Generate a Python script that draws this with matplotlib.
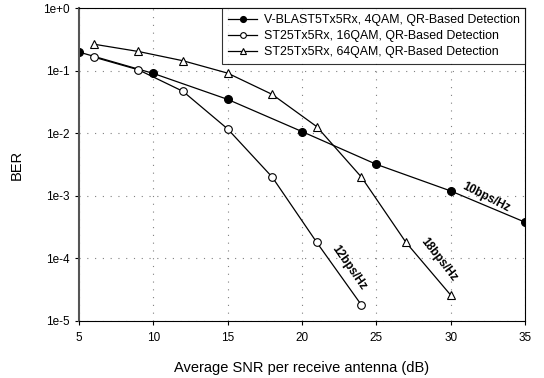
import matplotlib
matplotlib.use('Agg')
import matplotlib.pyplot as plt
import numpy as np

plt.rcParams['font.family'] = ['Liberation Sans', 'DejaVu Sans']

# data
snr_vblast = [5, 10, 15, 20, 25, 30, 35]
ber_vblast = [0.20, 0.091, 0.035, 0.0107, 0.0032, 0.0012, 3.8e-4]

snr_st = [6, 9, 12, 15, 18, 21, 24]
ber_st16 = [0.166, 0.104, 0.047, 0.0118, 0.0020, 1.8e-4, 1.8e-5]

snr_st64 = [6, 9, 12, 15, 18, 21, 24, 27, 30]
ber_st64 = [0.267, 0.204, 0.145, 0.092, 0.042, 0.0128, 0.0020, 1.8e-4, 2.6e-5]

labels = ['V-BLAST5Tx5Rx, 4QAM, QR-Based Detection',
          'ST25Tx5Rx, 16QAM, QR-Based Detection',
          'ST25Tx5Rx, 64QAM, QR-Based Detection']

fig = plt.figure(figsize=(5.44, 3.78), dpi=100)
ax = fig.add_axes([0.145, 0.151, 0.82, 0.827])

ax.semilogy(snr_vblast, ber_vblast, 'k-', marker='o', ms=5.5, lw=0.9,
            mfc='black', mec='black', label=labels[0])
ax.semilogy(snr_st, ber_st16, 'k-', marker='o', ms=5.5, lw=0.9,
            mfc='white', mec='black', mew=0.8, label=labels[1])
ax.semilogy(snr_st64, ber_st64, 'k-', marker='^', ms=6, lw=0.9,
            mfc='white', mec='black', mew=0.8, label=labels[2])

ax.set_xlim(5, 35)
ax.set_ylim(1e-5, 1)
ax.set_xticks([5, 10, 15, 20, 25, 30, 35])
ax.set_yticks([1e-5, 1e-4, 1e-3, 1e-2, 1e-1, 1e0])
ax.set_yticklabels(['1e-5', '1e-4', '1e-3', '1e-2', '1e-1', '1e+0'])
ax.minorticks_off()
ax.tick_params(labelsize=8.5, length=3, direction='out')
ax.tick_params(axis='x', pad=5)
ax.grid(True, which='major', color='gray', ls=(0, (1, 6)), lw=0.8)
ax.spines['left'].set_color('#555555')
ax.spines['left'].set_linewidth(1.5)

ax.set_xlabel('Average SNR per receive antenna (dB)', fontsize=10.5, labelpad=12)
ax.set_ylabel('BER', fontsize=10.5, labelpad=14)

leg = ax.legend(loc='upper right', fontsize=8.9, frameon=True, fancybox=False,
                edgecolor='black', borderaxespad=0, handlelength=2.4,
                handletextpad=0.5, labelspacing=0.33, borderpad=0.45,
                markerscale=0.75)
leg.get_frame().set_linewidth(0.8)

ax.text(32.4, 9.6e-4, '10bps/Hz', fontsize=8.5, fontweight='bold',
        rotation=-27, ha='center', va='center')
ax.text(23.15, 7e-5, '12bps/Hz', fontsize=8.5, fontweight='bold',
        rotation=-55, ha='center', va='center')
ax.text(29.2, 9.5e-5, '18bps/Hz', fontsize=8.5, fontweight='bold',
        rotation=-52, ha='center', va='center')

fig.savefig('out.png', dpi=100)
